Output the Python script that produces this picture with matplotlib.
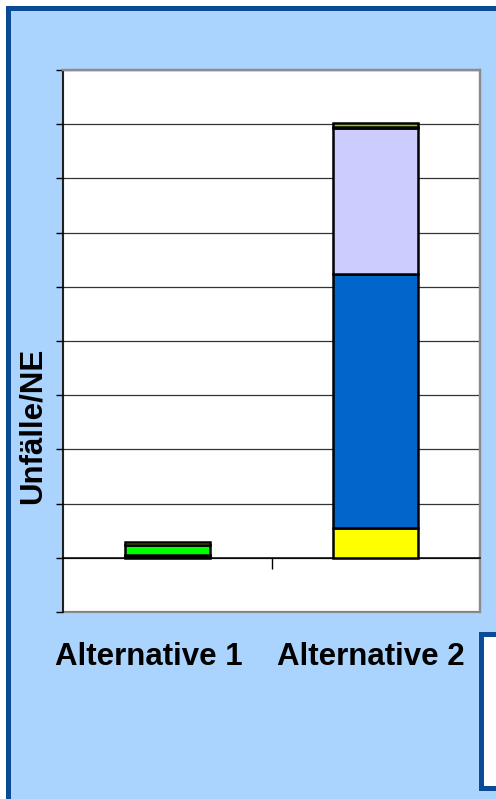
import numpy as np
import matplotlib
matplotlib.use("Agg")
from matplotlib import pyplot as plt
from matplotlib.patches import Rectangle

categories = ["Alternative 1", "Alternative 2"]
# stacked segments, bottom to top
seg_yellow   = [0.02, 0.55]
seg_blue     = [0.02, 4.69]
seg_lavender = [0.02, 2.69]
seg_green    = [0.17, 0.02]
seg_olive    = [0.07, 0.08]
series = [seg_yellow, seg_blue, seg_lavender, seg_green, seg_olive]
colors = ["#FFFF00", "#0066CC", "#CCCCFF", "#00FF00", "#99CC00"]
yticks = np.arange(-1, 10, 1)
ylabel = "Unfälle/NE"

W, H = 496, 799
fig = plt.figure(figsize=(W/100, H/100), dpi=100, facecolor="white")
plt.rcParams['font.family'] = ['Liberation Sans', 'DejaVu Sans']

def fx(px): return px / W
def fy(py): return 1 - py / H

# light blue panel with dark blue frame
fig.patches.append(Rectangle((fx(7.5), fy(810)), fx(510), fy(7.5) - fy(810),
                             transform=fig.transFigure, facecolor="#AAD4FD",
                             edgecolor="#0A4B96", lw=3.6, zorder=-10))
# white box bottom right
fig.patches.append(Rectangle((fx(480.5), fy(787.5)), fx(40), fy(633.5) - fy(787.5),
                             transform=fig.transFigure, facecolor="white",
                             edgecolor="#0A4B96", lw=3.6, zorder=5))

ax = fig.add_axes([fx(63), fy(612), fx(480) - fx(63), fy(70) - fy(612)])
ax.set_facecolor("white")
x = np.arange(len(categories))
bottom = np.zeros(len(categories))
for vals, c in zip(series, colors):
    ax.bar(x, vals, width=0.41, bottom=bottom, color=c, edgecolor="black",
           linewidth=1.8, zorder=3)
    bottom += np.array(vals)

ax.set_xlim(-0.5, 1.5)
ax.set_ylim(yticks[0], yticks[-1])
ax.set_yticks(yticks)
ax.set_yticklabels([])
ax.yaxis.grid(True, color="#333333", linewidth=0.9)
ax.set_axisbelow(True)
ax.tick_params(axis="y", direction="out", length=5, width=1, color="black")

ax.spines["bottom"].set_position(("data", 0))
ax.spines["bottom"].set_color("black")
ax.spines["bottom"].set_linewidth(1.1)
ax.set_xticks([0.5])
ax.set_xticklabels([])
ax.tick_params(axis="x", direction="out", length=8, width=1, color="black")
ax.spines["left"].set_color("black")
ax.spines["left"].set_linewidth(1.1)
for s in ["top", "right"]:
    ax.spines[s].set_color("#8C8C8C")
    ax.spines[s].set_linewidth(1.6)
ax.add_patch(Rectangle((0, 0), 1, 1, transform=ax.transAxes, fill=False,
                       edgecolor="#8C8C8C", lw=1.6, zorder=0.5, clip_on=False))

# category labels below the plot
label_x = [149, 371]
for lx, name in zip(label_x, categories):
    fig.text(fx(lx), fy(657), name, ha="center", va="center",
             fontsize=22.5, fontweight="bold", color="black")

fig.text(fx(33), fy(426), ylabel, rotation=90, ha="center", va="center",
         fontsize=22.5, fontweight="bold", color="black")

fig.savefig("out.png", dpi=100, facecolor=fig.get_facecolor())
